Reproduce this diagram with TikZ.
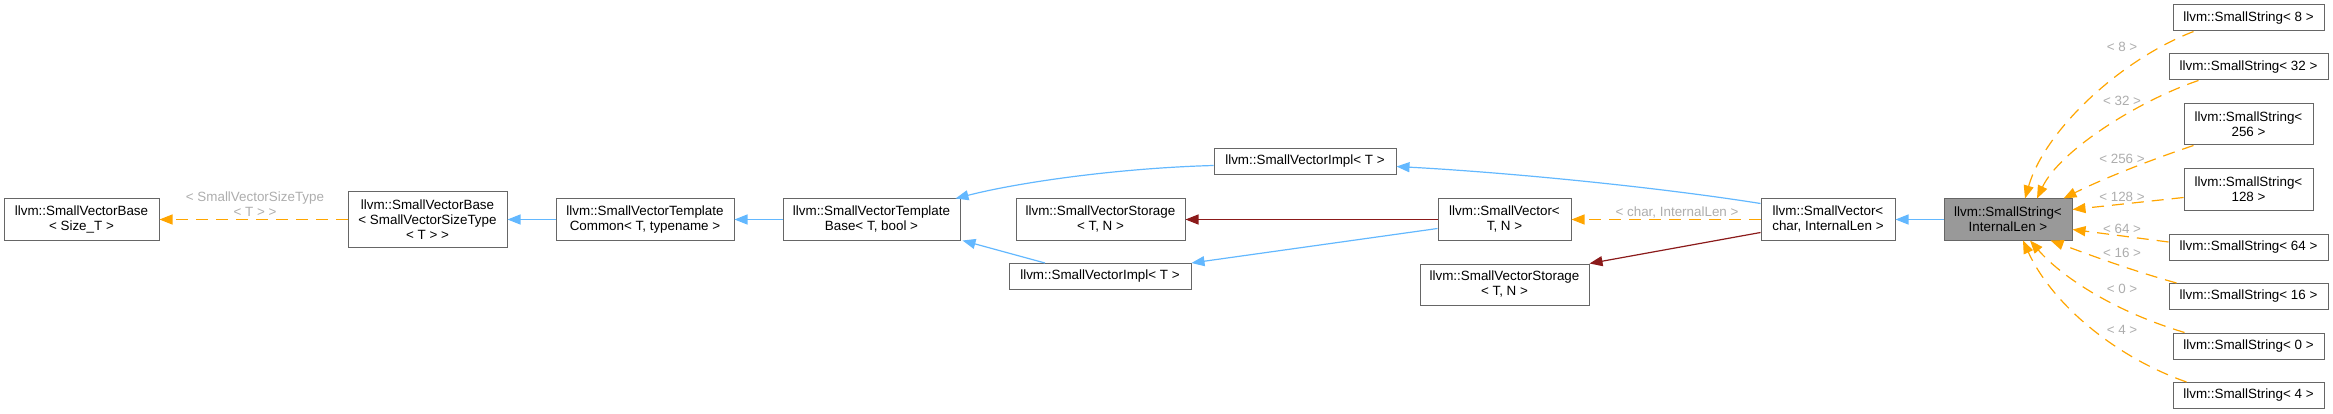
\documentclass[tikz,border=0pt]{standalone}
\usepackage{fontspec}
\setmainfont{Liberation Sans}
\usetikzlibrary{arrows.meta}
\definecolor{pubblue}{HTML}{63B8FF}
\definecolor{tmplorange}{HTML}{FFA500}
\definecolor{privred}{HTML}{8B1A1A}
\definecolor{boxgray}{HTML}{666666}
\definecolor{curgray}{HTML}{999999}
\definecolor{lblgray}{HTML}{ADADAD}

\begin{document}
\begin{tikzpicture}[x=1pt, y=-1pt,
    box/.style={draw=boxgray, fill=white, line width=1pt, inner sep=0pt, align=center, font=\fontsize{13.4}{15}\selectfont, minimum height=26},
    two/.style={minimum height=41},
    cur/.style={box, two, fill=curgray},
    lbl/.style={text=lblgray, font=\fontsize{13.4}{15}\selectfont, align=center, inner sep=0pt},
    pub/.style={draw=pubblue, line width=1.2pt, -{Triangle[length=13pt, width=10pt]}},
    priv/.style={pub, draw=privred},
    tmpl/.style={pub, draw=tmplorange, dash pattern=on 12pt off 8pt}
]
    \useasboundingbox (0,0) rectangle (2333,414);

    % base chain
    \node[box, two, minimum width=155] (sizet)    at (81.5,219.5)  {llvm::SmallVectorBase\\< Size\_T >};
    \node[box, minimum width=159, minimum height=55] (sizetype) at (427.5,219.5) {llvm::SmallVectorBase\\< SmallVectorSizeType\\< T > >};
    \node[box, two, minimum width=178] (common)   at (645,219.5)   {llvm::SmallVectorTemplate\\Common< T, typename >};
    \node[box, two, minimum width=177] (tbase)    at (871.5,219.5) {llvm::SmallVectorTemplate\\Base< T, bool >};
    \node[box, minimum width=182]      (implA)    at (1305,161.5)  {llvm::SmallVectorImpl< T >};
    \node[box, two, minimum width=169] (storeA)   at (1100.5,219.5){llvm::SmallVectorStorage\\< T, N >};
    \node[box, minimum width=182]      (implB)    at (1100,276.5)  {llvm::SmallVectorImpl< T >};
    \node[box, two, minimum width=133] (vecTN)    at (1504.5,219.5){llvm::SmallVector<\\T, N >};
    \node[box, two, minimum width=169] (storeB)   at (1504.5,284.5){llvm::SmallVectorStorage\\< T, N >};
    \node[box, two, minimum width=134] (vecchar)  at (1828,219.5)  {llvm::SmallVector<\\char, InternalLen >};
    \node[cur, minimum width=128]      (sstr)     at (2008,219.5)  {llvm::SmallString<\\InternalLen >};

    % instances
    \node[box, minimum width=151]      (ss8)   at (2248.5,18)    {llvm::SmallString< 8 >};
    \node[box, minimum width=159]      (ss32)  at (2248.5,67)    {llvm::SmallString< 32 >};
    \node[box, two, minimum width=129] (ss256) at (2248.5,124.5) {llvm::SmallString<\\256 >};
    \node[box, two, minimum width=129] (ss128) at (2248.5,189.5) {llvm::SmallString<\\128 >};
    \node[box, minimum width=159]      (ss64)  at (2248.5,247)   {llvm::SmallString< 64 >};
    \node[box, minimum width=159]      (ss16)  at (2248.5,296.5) {llvm::SmallString< 16 >};
    \node[box, minimum width=151]      (ss0)   at (2248.5,346)   {llvm::SmallString< 0 >};
    \node[box, minimum width=151]      (ss4)   at (2248.5,395.5) {llvm::SmallString< 4 >};

    % labels
    \node[lbl] (lsize) at (255,204.5) {< SmallVectorSizeType\\< T > >};
    \node[lbl] (lchar) at (1677,213)  {< char, InternalLen >};
    \node[lbl] (l8)    at (2122,47)   {< 8 >};
    \node[lbl] (l32)   at (2122,101)  {< 32 >};
    \node[lbl] (l256)  at (2122,159)  {< 256 >};
    \node[lbl] (l128)  at (2122,197)  {< 128 >};
    \node[lbl] (l64)   at (2122,229)  {< 64 >};
    \node[lbl] (l16)   at (2122,253)  {< 16 >};
    \node[lbl] (l0)    at (2122,289)  {< 0 >};
    \node[lbl] (l4)    at (2122,330)  {< 4 >};

    \draw[tmpl] (sizetype) -- (sizet);
    \draw[pub] (common) -- (sizetype);
    \draw[pub] (tbase) -- (common);
    \draw[pub] ([yshift=-4pt]implA.west) .. controls (1120,168) and (1020,182) .. ([xshift=-5pt]tbase.north east);
    \draw[pub] ([xshift=-55pt]implB.north) -- ([xshift=2pt]tbase.south east);
    \draw[priv] (vecTN) -- (storeA);
    \draw[pub] ([yshift=-9pt]vecTN.west) -- (implB.north east);
    \draw[pub] ([yshift=16pt]vecchar.west) .. controls (1650,186) and (1500,172) .. ([yshift=-5pt]implA.east);
    \draw[tmpl] (vecchar) -- (vecTN);
    \draw[priv] ([yshift=-13pt]vecchar.west) -- (storeB.north east);
    \draw[pub] (sstr) -- (vecchar);

    \draw[tmpl] ([xshift=-55pt]ss8.south) .. controls (2120,60) and (2045,130) .. ([xshift=17pt]sstr.north);
    \draw[tmpl] ([xshift=-50pt]ss32.south) .. controls (2140,100) and (2060,150) .. ([xshift=29pt]sstr.north);
    \draw[tmpl] ([xshift=-55pt]ss256.south) .. controls (2150,160) and (2100,180) .. ([xshift=-9pt]sstr.north east);
    \draw[tmpl] ([yshift=-8pt]ss128.west) -- ([yshift=10pt]sstr.east);
    \draw[tmpl] ([yshift=5pt]ss64.west) -- ([yshift=-10pt]sstr.east);
    \draw[tmpl] ([xshift=-72pt]ss16.north) .. controls (2130,270) and (2090,255) .. ([xshift=-22pt]sstr.south east);
    \draw[tmpl] ([xshift=-64pt]ss0.north) .. controls (2110,310) and (2060,275) .. ([xshift=22pt]sstr.south);
    \draw[tmpl] ([xshift=-62pt]ss4.north) .. controls (2110,355) and (2050,300) .. ([xshift=15pt]sstr.south);
\end{tikzpicture}
\end{document}
